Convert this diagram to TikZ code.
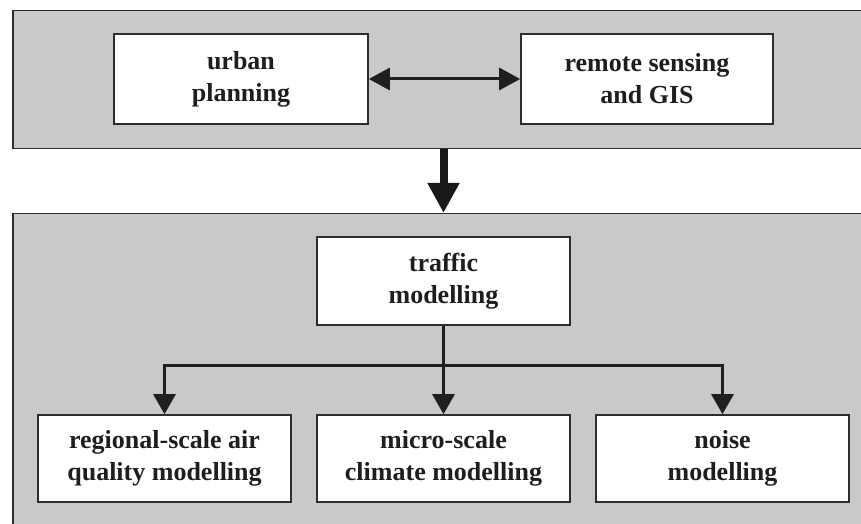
\documentclass[tikz,border=0pt]{standalone}
\usepackage{fontspec}
\setmainfont{Liberation Serif}
\usetikzlibrary{arrows.meta,calc}
\definecolor{panelgray}{RGB}{200,201,203}
\definecolor{linegray}{RGB}{45,45,45}
\definecolor{textgray}{RGB}{30,30,30}
\begin{document}
\begin{tikzpicture}[x=1pt,y=1pt,
  panel/.style={draw=linegray, line width=1.5pt, fill=panelgray, inner sep=0pt, anchor=north west},
  box/.style={draw=linegray, line width=1.6pt, fill=white, minimum width=253pt, minimum height=89pt,
    inner sep=0pt, align=center, text=textgray, font=\fontsize{26}{32}\selectfont\bfseries},
  conn/.style={draw=black!88, line width=3pt, -{Triangle[length=20pt,width=22pt]}},
  dconn/.style={draw=black!88, line width=3pt, {Triangle[length=21pt,width=22pt]}-{Triangle[length=21pt,width=22pt]}},
  bigarrow/.style={draw=black!90, line width=8pt, -{Triangle[length=30pt,width=30pt]}}
  ]
\useasboundingbox (0,0) rectangle (861,524);
\clip (0,0) rectangle (861,524);
\fill[white] (0,0) rectangle (861,524);
% panels
\node[panel, minimum width=900pt, minimum height=138pt] (top) at (12,514) {};
\node[panel, minimum width=900pt, minimum height=400pt] (bot) at (12,311) {};
% boxes
\node[box, minimum width=254pt, minimum height=90pt] (urban) at (241,445) {urban\\planning};
\node[box, minimum width=252pt, minimum height=90pt] (remote) at (647,445) {remote sensing\\and GIS};
\node[box, minimum height=88pt] (traffic) at (443.5,243) {traffic\\modelling};
\node[box, minimum height=87pt] (air) at (164.5,65.5) {regional-scale air\\quality modelling};
\node[box, minimum height=87pt] (climate) at (443.5,65.5) {micro-scale\\climate modelling};
\node[box, minimum height=87pt] (noise) at (722.5,65.5) {noise\\modelling};
% connectors
\draw[dconn] (urban.east) -- (remote.west);
\draw[bigarrow] (top.south -| traffic.north) -- (bot.north -| traffic.north);
\coordinate (split) at ($(traffic.south |- 0,158)$);
\draw[conn] (traffic.south) -- (climate.north);
\draw[conn] (split) -| (air.north);
\draw[conn] (split) -| (noise.north);
\end{tikzpicture}
\end{document}
